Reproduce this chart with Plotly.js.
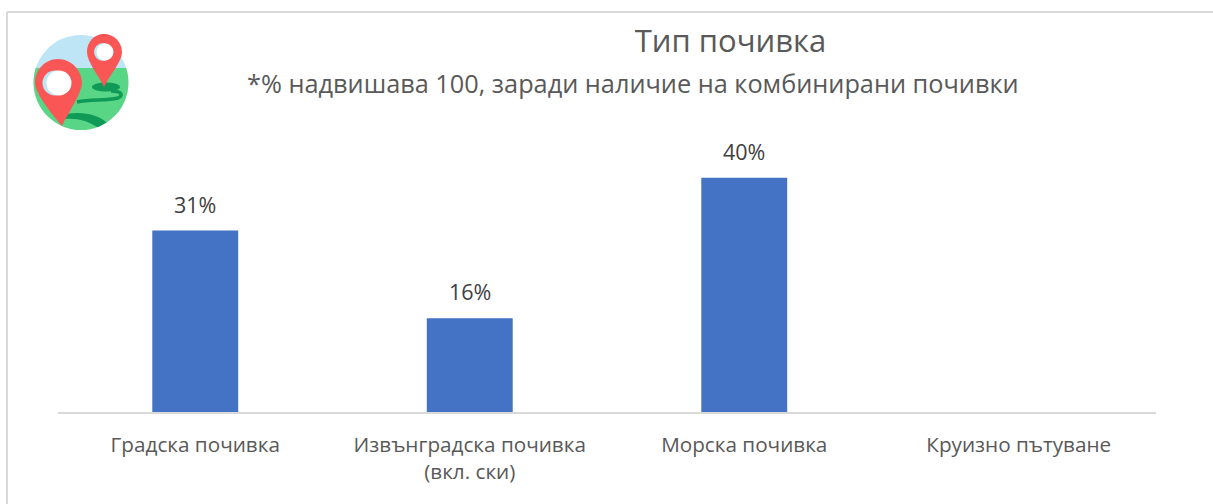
<!DOCTYPE html>
<html><head><meta charset="utf-8">
<script src="https://cdn.plot.ly/plotly-3.0.1.min.js"></script>
<style>html,body{margin:0;padding:0;background:#fff;overflow:hidden}#c{width:1213px;height:504px}</style>
</head><body><div id="c"></div>
<script>
const categories = ["Градска почивка","Извънградска почивка<br>(вкл. ски)","Морска почивка","Круизно пътуване"];
const shares = [31,16,40,null];
const shareLabels = ["31%","16%","40%",""];
const chartTitle = "Тип почивка";
const chartSubtitle = "*% надвишава 100, заради наличие на комбинирани почивки";

const W=1213,H=504,L=58,R=57,T=148,B=92;
const px=x=>(x-L)/(W-L-R), py=y=>1-(y-T)/(H-T-B);
const font="'Open Sans','Noto Sans',sans-serif";
const icon=`<svg xmlns="http://www.w3.org/2000/svg" viewBox="0 0 100 100" width="400" height="400">
<defs><clipPath id="a"><circle cx="48" cy="49.5" r="47.5"/></clipPath></defs>
<g clip-path="url(#a)"><rect x="0" y="0" width="100" height="36" fill="#bde5f5"/><rect x="0" y="35" width="100" height="70" fill="#58d585"/>
<ellipse cx="73" cy="54" rx="14" ry="4.5" fill="#109a57"/>
<path d="M78 58 C90 58 90 63 85 65 C72 68 58 66 44 69" fill="none" stroke="#109a57" stroke-width="3.5"/>
<path d="M34 81 C50 78 66 82 74 90 L65 95 C56 88 44 85 32 86 Z" fill="#109a57"/>
<path d="M25 26 C12 26 2 37 2 50 C2 60 18 80 29 93 C35 80 49 60 49 50 C49 37 38 26 25 26 Z" fill="#fa5655"/></g>
<circle cx="22" cy="50" r="12.5" fill="#bde5f5"/><circle cx="26" cy="50" r="12.5" fill="#fff"/>
<path d="M71 1 C61 1 54 9 54 19 C54 29 66 43 71 54 C76 43 89 29 89 19 C89 9 81 1 71 1 Z" fill="#fa5655"/>
<circle cx="70" cy="19" r="9" fill="#bde5f5"/><circle cx="72" cy="19" r="8.5" fill="#fff"/>
</svg>`;
const line=(x0,y0,x1,y1)=>({type:"line",xref:"paper",yref:"paper",x0:px(x0),y0:py(y0),x1:px(x1),y1:py(y1),line:{color:"#d9d9d9",width:2}});
const valueLabels=categories.map((c,i)=>({text:shareLabels[i],x:c,y:shares[i]||0,xref:"x",yref:"y",yanchor:"bottom",yshift:10,showarrow:false,font:{family:font,size:21.5,color:"#404040"}})).filter(a=>a.text);
Plotly.newPlot("c",[{
  type:"bar",x:categories,y:shares,cliponaxis:false,marker:{color:"#4472c4"},hoverinfo:"skip"
}],{
  width:W,height:H,margin:{l:L,r:R,t:T,b:B,pad:0},paper_bgcolor:"#fff",plot_bgcolor:"#fff",showlegend:false,bargap:0.687,
  title:{text:chartTitle,font:{family:font,size:31,color:"#595959"},x:px(730.5),xanchor:"center",xref:"paper",y:1-41/H,yanchor:"middle"},
  xaxis:{type:"category",tickfont:{family:font,size:20.7,color:"#595959"},showgrid:false,zeroline:false,showline:true,linecolor:"#d9d9d9",linewidth:2,ticks:"outside",ticklen:13,tickcolor:"rgba(0,0,0,0)",automargin:false},
  yaxis:{range:[0,45.1],visible:false,fixedrange:true},
  annotations:[{text:chartSubtitle,xref:"paper",yref:"paper",x:px(632.5),y:py(83),xanchor:"center",yanchor:"middle",showarrow:false,font:{family:font,size:25.3,color:"#595959"}},...valueLabels],
  shapes:[line(7,12,W,12),line(7,12,7,H)],
  images:[{source:"data:image/svg+xml;charset=utf-8,"+encodeURIComponent(icon),xref:"paper",yref:"paper",x:px(33),y:py(33),sizex:100/(W-L-R),sizey:100/(H-T-B),sizing:"stretch",xanchor:"left",yanchor:"top",layer:"above"}]
},{displayModeBar:false,staticPlot:true});
</script></body></html>
